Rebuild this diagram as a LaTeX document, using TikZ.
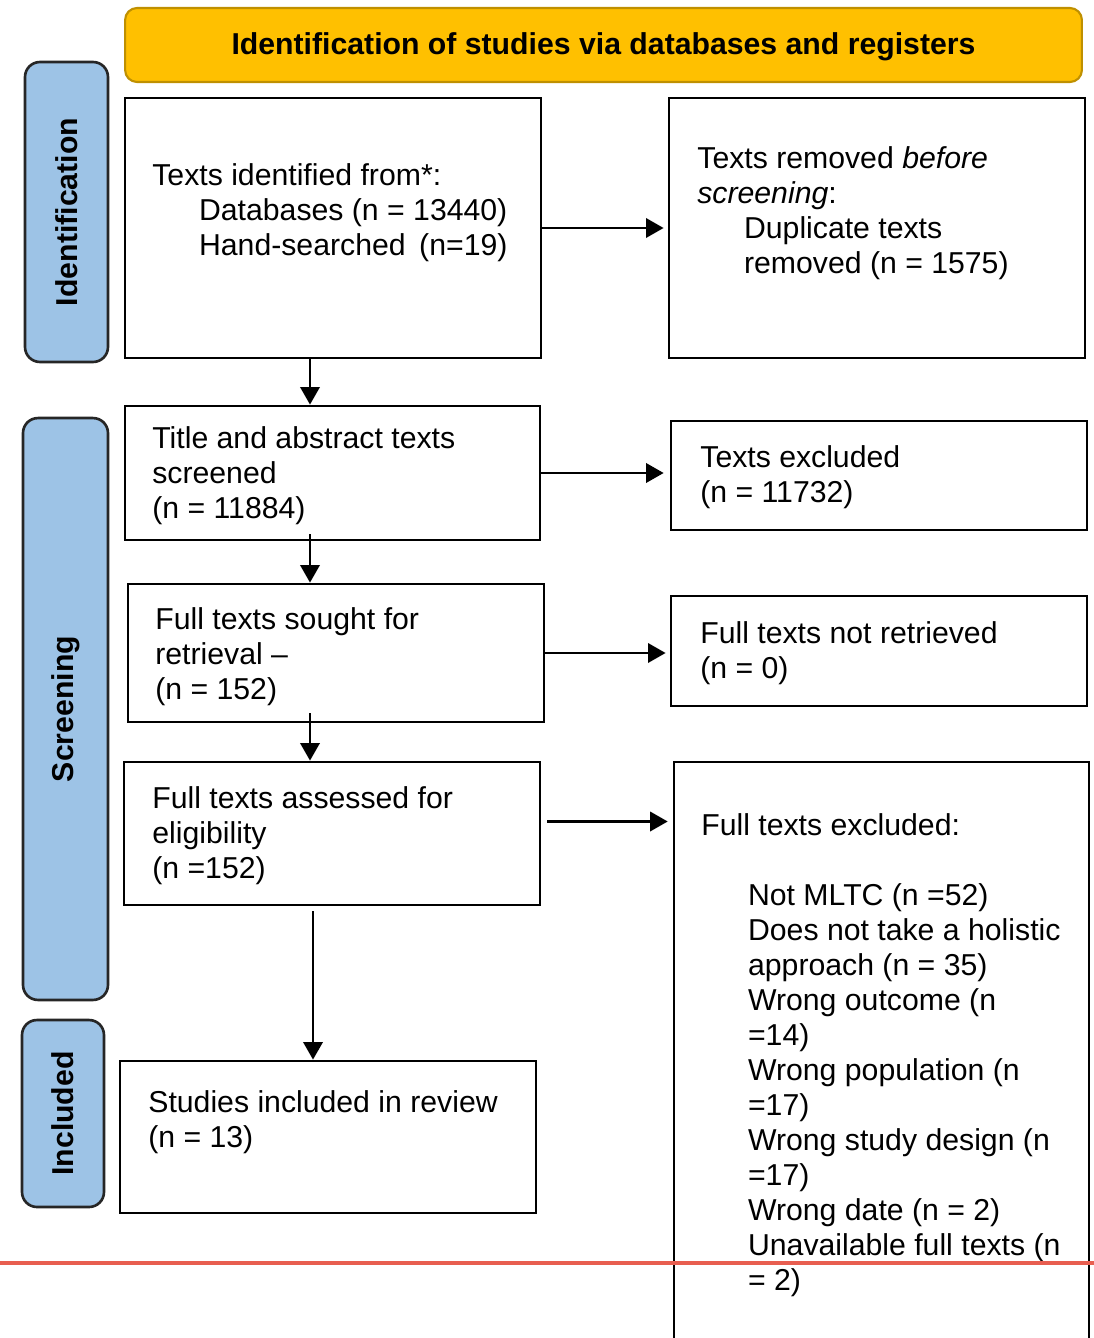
\documentclass[tikz,border=0pt]{standalone}
\usepackage{fontspec}
\setmainfont{Liberation Sans}
\usetikzlibrary{arrows.meta}
\definecolor{bannerfill}{RGB}{255,192,0}
\definecolor{bannerdraw}{RGB}{191,144,0}
\definecolor{phasefill}{RGB}{157,195,230}
\definecolor{cropred}{RGB}{232,94,80}
\newcommand{\listindent}{\hspace*{26.6pt}}
\begin{document}
\begin{tikzpicture}%
	[x={(0.02cm,0cm)},
	y={(0cm,-0.02cm)},
	box/.style={draw=black, line width=1.6pt, fill=white, inner sep=0pt},
	txt/.style={anchor=west, align=left, inner sep=0pt, font=\fontsize{17.2}{19.9}\selectfont},
	banner/.style={draw=bannerdraw, line width=1.2pt, fill=bannerfill, rounded corners=6.8pt, font=\fontsize{17.2}{19.9}\selectfont\bfseries},
	phase/.style={draw=black!85, line width=1.5pt, fill=phasefill, rounded corners=8.5pt, rotate=90, inner sep=0pt, font=\fontsize{17.2}{19.9}\selectfont\bfseries},
	arr/.style={line width=1.45pt, -{Triangle[length=10pt,width=11pt]}},
	cropline/.style={color=cropred, line width=1.9pt}]
%
\useasboundingbox (0,0) rectangle (1094,1338);
\clip (0,0) rectangle (1094,1338);
%%
%% Banner and phase labels
%%
\node[banner, minimum width=19.14cm, minimum height=1.48cm, text depth=0.4ex] (top) at (603.5,45) {Identification of studies via databases and registers};
\node[phase, minimum width=6cm, minimum height=1.66cm] (idphase) at (66.5,212) {Identification};
\node[phase, minimum width=11.64cm, minimum height=1.7cm] (scphase) at (65.5,709) {Screening};
\node[phase, minimum width=3.74cm, minimum height=1.64cm] (inphase) at (63,1113.5) {Included};
%%
%% Boxes
%%
\node[box, minimum width=8.32cm, minimum height=5.2cm] (b1) at (333,228) {};
\node[box, minimum width=8.32cm, minimum height=5.2cm] (b2) at (877,228) {};
\node[box, minimum width=8.3cm, minimum height=2.68cm] (b3) at (332.5,473) {};
\node[box, minimum width=8.32cm, minimum height=2.18cm] (b4) at (879,475.5) {};
\node[box, minimum width=8.32cm, minimum height=2.76cm] (b5) at (336,653) {};
\node[box, minimum width=8.32cm, minimum height=2.2cm] (b6) at (879,651) {};
\node[box, minimum width=8.32cm, minimum height=2.86cm] (b7) at (332,833.5) {};
\node[box, minimum width=8.3cm, minimum height=12.76cm] (b8) at (881.5,1081) {};
\node[box, minimum width=8.32cm, minimum height=3.04cm] (b9) at (328,1137) {};
%%
%% Texts
%%
\node[txt] (t1) at (152,213) {Texts identified from*:\\
	\listindent Databases (n = 13440)\\
	\listindent Hand-searched\hspace{0.45em}(n=19)};
\node[txt] (t2) at (697,213) {Texts removed \textit{before}\\
	\textit{screening}:\\
	\listindent Duplicate texts\\
	\listindent removed (n = 1575)};
\node[txt] (t3) at (152,476) {Title and abstract texts\\ screened\\ (n = 11884)};
\node[txt] (t4) at (700,477) {Texts excluded\\ (n = 11732)};
\node[txt] (t5) at (155,657) {Full texts sought for\\ retrieval --\\ (n = 152)};
\node[txt] (t6) at (700,653) {Full texts not retrieved\\ (n = 0)};
\node[txt] (t7) at (152,836) {Full texts assessed for\\ eligibility\\ (n =152)};
\node[txt] (t8) at (701,1055) {Full texts excluded:\\[19.9pt]
	\listindent Not MLTC (n =52)\\
	\listindent Does not take a holistic\\
	\listindent approach (n = 35)\\
	\listindent Wrong outcome (n\\
	\listindent =14)\\
	\listindent Wrong population (n\\
	\listindent =17)\\
	\listindent Wrong study design (n\\
	\listindent =17)\\
	\listindent Wrong date (n = 2)\\
	\listindent Unavailable full texts (n\\
	\listindent = 2)};
\node[txt] (t9) at (148,1122) {Studies included in review\\ (n = 13)};
%%
%% Arrows
%%
\coordinate (a2s) at ([shift={(-23,0)}]b1.south);
\coordinate (a4s) at ([shift={(-22.5,-7)}]b3.south);
\coordinate (a6s) at ([shift={(-26,-10)}]b5.south);
\coordinate (a7s) at ([shift={(6,-12)}]b7.east);
\coordinate (a8s) at ([shift={(-19,5)}]b7.south);
\draw[arr, shorten >=2.3pt] (b1.east) -- (b1.east -| b2.west);
\draw[arr, shorten >=3.4pt] (b3.east) -- (b3.east -| b4.west);
\draw[arr, shorten >=2.3pt] (b5.east) -- (b5.east -| b6.west);
\draw[arr, shorten >=2.8pt] (a7s) -- (a7s -| b8.west);
\draw[arr] (a2s) -- (a2s |- b3.north);
\draw[arr] (a4s) -- (a4s |- b5.north);
\draw[arr] (a6s) -- (a6s |- b7.north);
\draw[arr] (a8s) -- (a8s |- b9.north);
%%
%% Marker line
%%
\draw[cropline] (0,1263) -- (1094,1263);
%%
\end{tikzpicture}
\end{document}
